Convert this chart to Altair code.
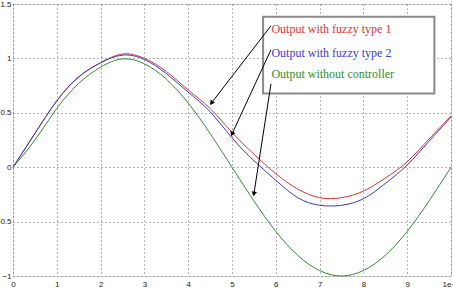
import altair as alt
import pandas as pd
import numpy as np

# values
x_vals = [0, 0.5, 1, 1.5, 2, 2.5, 3, 3.5, 4, 4.5, 5, 5.5, 6, 6.5, 7, 7.5, 8, 8.5, 9, 9.5, 10]
fuzzy1 = [0, 0.31, 0.61, 0.83, 0.96, 1.04, 1.00, 0.88, 0.71, 0.54, 0.32, 0.12, -0.06, -0.20, -0.28, -0.28, -0.22, -0.10, 0.05, 0.26, 0.47]
fuzzy2 = [0, 0.31, 0.61, 0.83, 0.96, 1.03, 0.99, 0.86, 0.69, 0.51, 0.27, 0.06, -0.12, -0.28, -0.35, -0.35, -0.29, -0.15, 0.02, 0.24, 0.46]
no_ctrl = [0, 0.25, 0.54, 0.77, 0.92, 0.995, 0.95, 0.81, 0.59, 0.31, 0.0, -0.31, -0.59, -0.81, -0.95, -1.0, -0.95, -0.81, -0.59, -0.31, 0.0]

series_names = ["Output with fuzzy type 1", "Output with fuzzy type 2", "Output without controller"]
line_colors = ["#e03434", "#3a3ad0", "#2f8f2f"]
text_colors = ["#e8262b", "#3d5f9a", "#5e8f3c"]

x_ticks = [0, 1, 2, 3, 4, 5, 6, 7, 8, 9, 10]
y_ticks = [-1, -0.5, 0, 0.5, 1, 1.5]

# annotation box / labels / arrows (data units)
box = {"x": 5.71, "x2": 9.62, "y": 1.383, "y2": 0.678}
label_x = [5.90, 5.90, 5.90]
label_y = [1.273, 1.052, 0.859]
arrow_x0 = [5.89, 5.89, 5.89]
arrow_y0 = [1.30, 1.08, 0.767]
arrow_x1 = [4.53, 5.00, 5.50]
arrow_y1 = [0.59, 0.305, -0.246]

W, H = 438, 272

rows = []
for name, ys in zip(series_names, [fuzzy1, fuzzy2, no_ctrl]):
    for xv, yv in zip(x_vals, ys):
        rows.append({"t": xv, "v": yv, "series": name})
df = pd.DataFrame(rows)

xs = alt.Scale(domain=[0, 10], nice=False, zero=False)
ys_ = alt.Scale(domain=[-1, 1.5], nice=False, zero=False)

xaxis = alt.Axis(values=x_ticks, grid=True, gridDash=[1, 3], gridColor="#444", gridOpacity=0.8,
                 title=None, labelFontSize=8, labelFont="Liberation Sans", labelColor="#222",
                 tickSize=0, labelPadding=4, domain=False, labelFlush=False, format="~g")
yaxis = alt.Axis(values=y_ticks, grid=True, gridDash=[1, 3], gridColor="#444", gridOpacity=0.8,
                 title=None, labelFontSize=8, labelFont="Liberation Sans", labelColor="#222",
                 tickSize=0, labelPadding=2, domain=False, labelFlush=False, format="~g")

lines = alt.Chart(df).mark_line(strokeWidth=1, interpolate="natural").encode(
    x=alt.X("t:Q", scale=xs, axis=xaxis),
    y=alt.Y("v:Q", scale=ys_, axis=yaxis),
    color=alt.Color("series:N", scale=alt.Scale(domain=series_names, range=line_colors), legend=None),
)

box_df = pd.DataFrame([box])
box_mark = alt.Chart(box_df).mark_rect(fill="white", stroke="#8a8a8a", strokeWidth=2).encode(
    x=alt.X("x:Q", scale=xs), x2="x2", y=alt.Y("y:Q", scale=ys_), y2="y2")

lab_df = pd.DataFrame({"x": label_x, "y": label_y, "txt": series_names})
labels = alt.Chart(lab_df).mark_text(align="left", baseline="middle", font="Liberation Serif", fontSize=12).encode(
    x=alt.X("x:Q", scale=xs), y=alt.Y("y:Q", scale=ys_), text="txt:N",
    color=alt.Color("txt:N", scale=alt.Scale(domain=series_names, range=text_colors), legend=None))

dx = (np.array(arrow_x1) - np.array(arrow_x0)) * W / 10
dy = -(np.array(arrow_y1) - np.array(arrow_y0)) * H / 2.5
angles = (np.degrees(np.arctan2(dx, -dy)) + 360) % 360
arr_df = pd.DataFrame({"x0": arrow_x0, "y0": arrow_y0, "x1": arrow_x1, "y1": arrow_y1, "ang": angles})

arrow_lines = alt.Chart(arr_df).mark_rule(color="black", strokeWidth=1).encode(
    x=alt.X("x0:Q", scale=xs), y=alt.Y("y0:Q", scale=ys_), x2="x1", y2="y1")
heads = alt.Chart(arr_df).mark_point(shape="triangle-up", filled=True, color="black", size=30, opacity=1).encode(
    x=alt.X("x1:Q", scale=xs), y=alt.Y("y1:Q", scale=ys_), angle=alt.Angle("ang:Q", scale=None))

chart = alt.layer(lines, box_mark, labels, arrow_lines, heads).properties(
    width=W, height=H, autosize="none",
    padding={"left": 13, "top": 4, "right": 2, "bottom": 18},
).configure_view(stroke="#222", strokeWidth=1).configure(background="white")

chart.save("out.html", embed_options={"renderer": "svg", "actions": False})
